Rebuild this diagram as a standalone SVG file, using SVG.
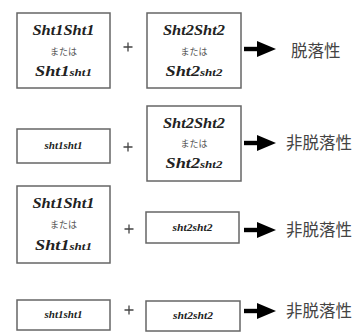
<svg xmlns="http://www.w3.org/2000/svg" width="358" height="332" viewBox="0 0 358 332">
<style>
.box{fill:#fff;stroke:#666;stroke-width:1.5}
.g{font-family:"Liberation Serif","Times New Roman",serif;font-weight:bold;font-style:italic;fill:#222;text-anchor:middle}
.big{font-size:14px}
.sm{font-size:10px}
.mt{font-family:"Noto Sans CJK JP",sans-serif;font-size:9px;fill:#555;text-anchor:middle}
.plus{stroke:#444;stroke-width:1.3}
.res{font-family:"Noto Sans CJK JP",sans-serif;font-size:16.5px;fill:#444}
</style>
<defs>
<g id="arr"><rect x="0" y="-2.2" width="15" height="4.4" fill="#000"/><polygon points="13,-8 32,0 13,8" fill="#000"/></g>
<path id="pl" class="plus" d="M-4.5,0H4.5M0,-4.5V4.5"/>
</defs>
<g id="r1a"><rect class="box" x="17" y="13" width="93" height="75"/>
<text class="g big" x="63.5" y="35" textLength="62" lengthAdjust="spacingAndGlyphs">Sht1Sht1</text>
<text class="mt" x="63.5" y="55">または</text>
<text class="g big" x="63.5" y="76" textLength="57" lengthAdjust="spacingAndGlyphs">Sht1<tspan class="sm">sht1</tspan></text></g>
<g id="r1b"><rect class="box" x="147" y="13" width="94" height="75"/>
<text class="g big" x="194" y="35" textLength="62" lengthAdjust="spacingAndGlyphs">Sht2Sht2</text>
<text class="mt" x="194" y="55">または</text>
<text class="g big" x="194" y="76" textLength="57" lengthAdjust="spacingAndGlyphs">Sht2<tspan class="sm">sht2</tspan></text></g>
<g id="r2a"><rect class="box" x="17" y="129" width="93" height="34"/>
<text class="g sm" x="63.5" y="149" textLength="38" lengthAdjust="spacingAndGlyphs">sht1sht1</text></g>
<g id="r2b"><rect class="box" x="147" y="106" width="94" height="75"/>
<text class="g big" x="194" y="128" textLength="62" lengthAdjust="spacingAndGlyphs">Sht2Sht2</text>
<text class="mt" x="194" y="147">または</text>
<text class="g big" x="194" y="168" textLength="57" lengthAdjust="spacingAndGlyphs">Sht2<tspan class="sm">sht2</tspan></text></g>
<g id="r3a"><rect class="box" x="17" y="186" width="93" height="77"/>
<text class="g big" x="63.5" y="208" textLength="62" lengthAdjust="spacingAndGlyphs">Sht1Sht1</text>
<text class="mt" x="63.5" y="228">または</text>
<text class="g big" x="63.5" y="250" textLength="57" lengthAdjust="spacingAndGlyphs">Sht1<tspan class="sm">sht1</tspan></text></g>
<g id="r3b"><rect class="box" x="146" y="212" width="93" height="31"/>
<text class="g sm" x="192.5" y="231" textLength="40" lengthAdjust="spacingAndGlyphs">sht2sht2</text></g>
<g id="r4a"><rect class="box" x="17" y="300" width="93" height="30"/>
<text class="g sm" x="63.5" y="318" textLength="38" lengthAdjust="spacingAndGlyphs">sht1sht1</text></g>
<g id="r4b"><rect class="box" x="146" y="301" width="94" height="30"/>
<text class="g sm" x="193" y="319" textLength="40" lengthAdjust="spacingAndGlyphs">sht2sht2</text></g>
<g id="connectors">
<use href="#pl" x="128" y="47"/>
<use href="#pl" x="128" y="147"/>
<use href="#pl" x="129" y="229"/>
<use href="#pl" x="129" y="310"/>
<use href="#arr" x="244" y="49"/>
<use href="#arr" x="244" y="143"/>
<use href="#arr" x="244" y="230"/>
<use href="#arr" x="244" y="311"/>
</g>
<g id="results">
<text class="res" x="291" y="57">脱落性</text>
<text class="res" x="286" y="149">非脱落性</text>
<text class="res" x="286" y="236">非脱落性</text>
<text class="res" x="286" y="317">非脱落性</text>
</g>
</svg>
